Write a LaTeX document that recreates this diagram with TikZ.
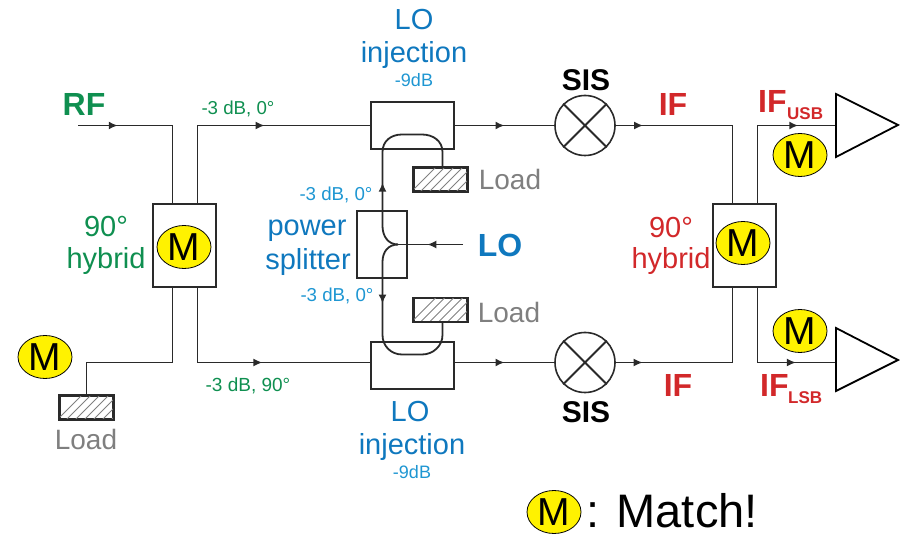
\documentclass[tikz,border=0pt]{standalone}
\usepackage{fontspec}
\setmainfont{Liberation Sans}
\usetikzlibrary{arrows.meta,decorations.markings,shapes.geometric}
\definecolor{cgreen}{HTML}{0F8F50}
\definecolor{cblue}{HTML}{0F78BE}
\definecolor{clblue}{HTML}{1E96D2}
\definecolor{cred}{HTML}{D2282A}
\definecolor{cgray}{HTML}{7F7F7F}
\definecolor{cline}{HTML}{2A2A2A}
\tikzset{
  x=1pt,y=-1pt,
  wire/.style={draw=cline,line width=1.8pt},
  arrowat/.style={postaction={decorate,decoration={markings,mark=at position #1 with {\arrow{Latex[length=9pt,width=8pt]}}}}},
  blockbox/.style={draw=cline,fill=white,line width=1.8pt,inner sep=0pt},
  hybridbox/.style={blockbox,minimum width=63pt,minimum height=83pt},
  lobox/.style={blockbox,minimum width=83pt,minimum height=47pt},
  loadbox/.style={draw=cline,line width=1.8pt,inner sep=0pt,minimum width=53pt,minimum height=23pt},
  hatchline/.style={draw=gray,line width=0.9pt},
  mixer/.style={circle,draw=cline,fill=white,line width=1.6pt,minimum size=60pt,inner sep=0pt},
  amp/.style={draw=black,fill=white,line width=1.8pt,line join=miter},
  matchm/.style={ellipse,draw=black,fill=yellow,line width=0.8pt,minimum width=54pt,minimum height=43pt,inner sep=0pt,font=\fontsize{39}{39}\selectfont},
  txt/.style={inner sep=0pt,align=center,font=\fontsize{#1}{#1}\selectfont},
  btxt/.style={inner sep=0pt,align=center,font=\fontsize{#1}{#1}\selectfont\bfseries},
}
\begin{document}
\begin{tikzpicture}
\useasboundingbox (0,0) rectangle (905,534);
% blocks
\node[hybridbox] (hl) at (184.5,245.5) {};
\node[hybridbox] (hr) at (744.5,245.5) {};
\node[lobox] (lot) at (412.5,125.5) {};
\node[lobox] (lob) at (412.5,365.5) {};
\node[blockbox,minimum width=50pt,minimum height=67pt] (ps) at (382,244.5) {};
\node[loadbox] (loadt) at (440.5,179.5) {};
\node[loadbox] (loadb) at (440.5,310) {};
\node[loadbox] (loadl) at (86.5,407.5) {};
\foreach \n in {loadt,loadb,loadl}{
  \begin{scope}
    \clip (\n.south west) rectangle (\n.north east);
    \foreach \d in {-2,7,...,70}
      \draw[hatchline] ([xshift=\d pt]\n.south west) -- ++(30,-30);
  \end{scope}
  \draw[wire] (\n.south west) rectangle (\n.north east);
}
\node[mixer] (mixt) at (585,125.5) {};
\node[mixer] (mixb) at (585,362.5) {};
\draw[wire] (mixt.45)--(mixt.225) (mixt.135)--(mixt.315);
\draw[wire] (mixb.45)--(mixb.225) (mixb.135)--(mixb.315);
% free ends and taps
\coordinate (rfin) at (78,125.5);
\coordinate (hlnw) at (172.5,204);
\coordinate (hlne) at (197.5,204);
\coordinate (hlsw) at (172.5,287);
\coordinate (hlse) at (197.5,287);
\coordinate (hrnw) at (732.5,204);
\coordinate (hrne) at (757.5,204);
\coordinate (hrsw) at (732.5,287);
\coordinate (hrse) at (757.5,287);
\coordinate (lofree) at (463,244.5);
\coordinate (amputl) at (836,125.5);
\coordinate (ampltl) at (836,362.5);
% connectors
\draw[wire,arrowat=0.23] (rfin) -| (hlnw);
\draw[wire,arrowat=0.58] (hlne) |- (lot.west);
\draw[wire,arrowat=0.566] (hlse) |- (lob.west|-0,362.5);
\draw[wire] (hlsw) |- (86.5,362.5) -- (loadl.north);
\draw[wire,arrowat=0.5] (lot.east) -- (mixt.west);
\draw[wire,arrowat=0.5] (lob.east|-0,362.5) -- (mixb.west);
\draw[wire,arrowat=0.14] (mixt.east) -| (hrnw);
\draw[wire,arrowat=0.14] (mixb.east) -| (hrsw);
\draw[wire,arrowat=0.76] (hrne) |- (amputl);
\draw[wire,arrowat=0.74] (hrse) |- (ampltl);
% LO path
\draw[wire,arrowat=0.55] (lofree) -- (398,244.5);
\draw[wire,arrowat=0.36] (398,244.5) .. controls (388,244.5) and (382.5,236) .. (382.5,226) -- (382.5,152) .. controls (382.5,141) and (391,134.5) .. (402,134.5) -- (422,134.5) .. controls (433,134.5) and (442.5,141) .. (442.5,152) -- (loadt.north-|442.5,0);
\draw[wire,arrowat=0.35] (398,244.5) .. controls (388,244.5) and (382.5,252) .. (382.5,262) -- (382.5,335) .. controls (382.5,346) and (391,354.5) .. (402,354.5) -- (422,354.5) .. controls (433,354.5) and (442.5,346) .. (442.5,335) -- (loadb.south-|442.5,0);
% amplifiers
\draw[amp] (836,94) -- (898,125) -- (836,157) -- cycle;
\draw[amp] (836,328) -- (898,360) -- (836,391) -- cycle;
% match
\node[matchm] (m1) at (184,247) {M};
\node[matchm] (m2) at (743,243) {M};
\node[matchm] (m3) at (800,155) {M};
\node[matchm] (m4) at (800,331) {M};
\node[matchm] (m5) at (45,357) {M};
\node[matchm] (m6) at (554,512) {M};
\node[txt=47,anchor=west] (match) at (586,511) {: Match!};
% labels
\node[btxt=32,text=cgreen] (trf) at (84,104) {RF};
\node[txt=18.7,text=cgreen] (t1) at (238,109) {-3 dB, 0°};
\node[txt=19,text=cgreen] (t2) at (248,386) {-3 dB, 90°};
\node[txt=29,text=cgreen] (t3) at (106,227) {90°};
\node[txt=29,text=cgreen] (t4) at (106,261) {hybrid};
\node[txt=29,text=cred] (t5) at (671,228) {90°};
\node[txt=29,text=cred] (t6) at (671,261) {hybrid};
\node[txt=29,text=cblue] (t7) at (414,20) {LO};
\node[txt=29,text=cblue] (t8) at (414,55) {injection};
\node[txt=18,text=clblue] (t9) at (414,80) {-9dB};
\node[txt=29,text=cblue] (t10) at (410,412) {LO};
\node[txt=29,text=cblue] (t11) at (412,447) {injection};
\node[txt=18,text=clblue] (t12) at (412,472) {-9dB};
\node[txt=18.7,text=clblue] (t13) at (336,195) {-3 dB, 0°};
\node[txt=18.7,text=clblue] (t14) at (337,296) {-3 dB, 0°};
\node[txt=29,text=cblue] (t15) at (307,231) {power};
\node[txt=29,text=cblue] (t16) at (308,262) {splitter};
\node[btxt=32,text=cblue] (t17) at (500,245) {LO};
\node[txt=28,text=cgray] (t18) at (510,179) {Load};
\node[txt=28,text=cgray] (t19) at (509,312) {Load};
\node[txt=28,text=cgray] (t20) at (86,439) {Load};
\node[btxt=30,text=black] (t21) at (586,80) {SIS};
\node[btxt=30,text=black] (t22) at (586,412) {SIS};
\node[btxt=32,text=cred] (t23) at (673,104) {IF};
\node[btxt=32,text=cred] (t24) at (678,385) {IF};
\node[btxt=32,text=cred,anchor=west] (t25) at (758,101) {IF};
\node[btxt=17,text=cred,anchor=west] (t26) at (787,114) {USB};
\node[btxt=32,text=cred,anchor=west] (t27) at (760,385) {IF};
\node[btxt=17,text=cred,anchor=west] (t28) at (788,398) {LSB};
\end{tikzpicture}
\end{document}
